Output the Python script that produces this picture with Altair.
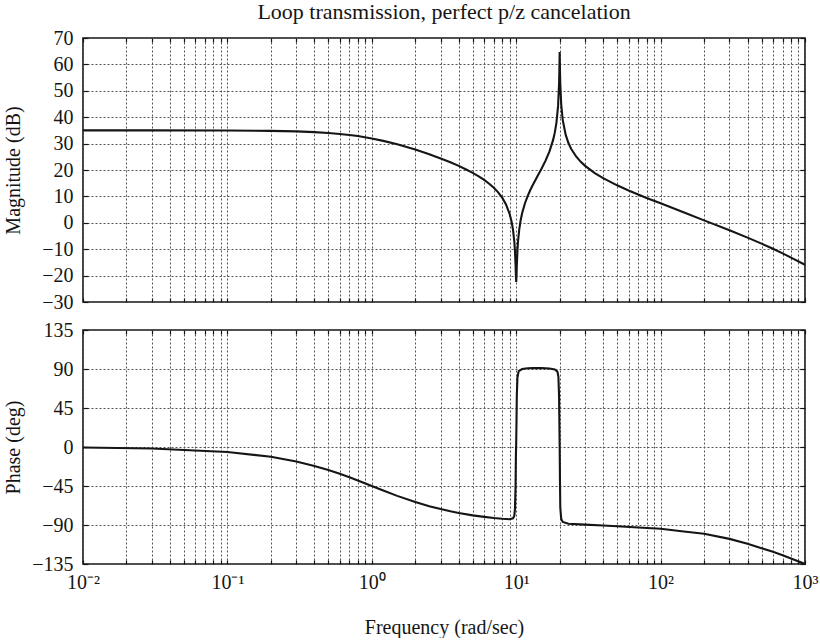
import altair as alt
import pandas as pd

# ---- data ----
mag_freq = [0.01, 0.03, 0.1, 0.2, 0.3, 0.4, 0.5, 0.6, 0.7, 0.8, 1.0, 1.2, 1.5, 2.0,
            2.5, 3.0, 3.5, 4.0, 4.5, 5.0, 5.5, 6.0, 6.5, 7.0, 7.5, 8.0, 8.5, 9.0,
            9.3, 9.5, 9.7, 9.8, 9.9, 9.95, 10.0, 10.05, 10.1, 10.2, 10.3, 10.5,
            10.75, 11.0, 11.5, 12.0, 12.5, 13.0, 14.0, 15.0, 16.0, 17.0, 18.0, 18.5,
            19.0, 19.5, 19.8, 19.9, 19.95, 20.0, 20.05, 20.1, 20.2, 20.5, 21.0, 22.0,
            23.0, 24.0, 26.0, 28.0, 30.0, 35.0, 40.0, 50.0, 60.0, 80.0, 100.0,
            150.0, 200.0, 300.0, 400.0, 500.0, 600.0, 700.0, 800.0, 1000.0]
mag_db = [35.0, 35.0, 34.96, 34.83, 34.62, 34.35, 34.03, 33.66, 33.27, 32.86, 31.95,
          31.03, 29.73, 27.74, 25.98, 24.38, 22.95, 21.55, 20.18, 18.91, 17.6, 16.23,
          14.78, 13.28, 11.53, 9.54, 6.97, 3.4, 0.3, -2.58, -7.0, -10.5, -16.0,
          -20.0, -22.4, -20.0, -16.2, -10.45, -6.9, -2.45, 1.15, 3.7, 7.41, 10.14,
          12.34, 14.25, 17.56, 20.59, 23.63, 27.04, 31.32, 34.14, 37.97, 44.28,
          52.4, 57.5, 61.0, 64.7, 61.0, 57.5, 52.6, 44.8, 39.0, 33.39, 30.23, 28.06,
          25.12, 23.1, 21.57, 18.84, 16.93, 14.2, 12.26, 9.4, 7.4, 3.6, 0.92,
          -2.84, -5.62, -7.89, -9.85, -11.59, -13.17, -15.9]

phase_freq = [0.01, 0.03, 0.1, 0.2, 0.3, 0.4, 0.5, 0.6, 0.7, 0.8, 1.0, 1.2, 1.5, 2.0,
              2.5, 3.0, 3.5, 4.0, 5.0, 6.0, 7.0, 8.0, 9.0, 9.5, 9.7, 9.8, 9.9, 9.95,
              10.0, 10.05, 10.1, 10.2, 10.4, 11.0, 12.0, 13.0, 15.0, 17.0, 18.5, 19.3,
              19.6, 19.8, 19.9, 20.0, 20.1, 20.2, 20.5, 21.0, 23.0, 30.0, 40.0, 50.0,
              70.0, 100.0, 150.0, 200.0, 300.0, 400.0, 500.0, 600.0, 700.0, 800.0,
              1000.0]
phase_deg = [-0.6, -1.7, -5.7, -11.3, -16.7, -21.8, -26.6, -31.0, -35.0, -38.7, -45.0,
             -50.2, -56.4, -63.4, -68.3, -71.6, -74.2, -76.2, -78.9, -80.6, -81.9,
             -82.8, -83.3, -82.3, -79.5, -72.0, -45.0, -10.0, 5.0, 30.0, 60.0, 80.0,
             87.5, 90.0, 90.8, 91.0, 91.0, 90.5, 89.5, 87.0, 81.0, 60.0, 30.0, 1.0,
             -40.0, -70.0, -83.0, -86.5, -88.5, -89.6, -90.6, -91.5, -92.8, -94.3,
             -97.8, -100.0, -106.0, -111.5, -116.8, -121.0, -124.8, -128.6, -135.0]

decades = [0.01, 0.1, 1, 10, 100, 1000]
decade_labels = ["10\u207b\u00b2", "10\u207b\u00b9", "10\u2070", "10\u00b9", "10\u00b2", "10\u00b3"]
mag_ticks = [-30, -20, -10, 0, 10, 20, 30, 40, 50, 60, 70]
phase_ticks = [-135, -90, -45, 0, 45, 90, 135]

title_text = "Loop transmission, perfect p/z cancelation"
mag_title = "Magnitude (dB)"
phase_title = "Phase (deg)"
freq_title = "Frequency (rad/sec)"

# ---- helpers ----
x_grid = sorted([round(m * d, 10) for d in decades[:-1] for m in range(1, 10)] + [1000])
label_expr = " : ".join(
    f"datum.value == {d} ? '{lab}'" for d, lab in zip(decades, decade_labels)
) + " : ''"

FONT = "Liberation Serif"
INK = "#151515"
W = 722

mag_df = pd.DataFrame({"f": mag_freq, "v": mag_db})
ph_df = pd.DataFrame({"f": phase_freq, "v": phase_deg})

xscale = alt.Scale(type="log", domain=[0.01, 1000], nice=False)


def panel(df, ydomain, yticks, ytitle, height, show_xlabels):
    y_scale = alt.Scale(domain=ydomain, nice=False, zero=False)
    x_axis = alt.Axis(
        values=x_grid, grid=True, gridColor="#555", gridDash=[2, 2], gridWidth=1,
        domain=False, ticks=True, tickSize=4, offset=-4, tickColor=INK, tickWidth=1.2,
        labels=show_xlabels, labelExpr=label_expr, labelFlush=False, labelOverlap=False,
        labelFont=FONT, labelFontSize=20, labelColor=INK, labelPadding=8,
        title=freq_title if show_xlabels else None, titleFont=FONT, titleFontSize=20,
        titleFontWeight="normal", titleColor=INK, titlePadding=25,
    )
    y_axis = alt.Axis(
        values=yticks, grid=True, gridColor="#555", gridDash=[2, 2], gridWidth=1,
        domain=False, ticks=True, tickSize=5, offset=-5, tickColor=INK, tickWidth=1.2,
        labelFont=FONT, labelFontSize=20, labelColor=INK, labelPadding=10,
        title=ytitle, titleFont=FONT, titleFontSize=20, titleFontWeight="normal",
        titleColor=INK, titleX=-65, titleY=height / 2, titleAngle=-90,
        titleBaseline="bottom", titleAlign="center",
    )
    main = alt.Chart(df).mark_line(color=INK, strokeWidth=2.1, clip=True).encode(
        x=alt.X("f:Q", scale=xscale, axis=x_axis),
        y=alt.Y("v:Q", scale=y_scale, axis=y_axis),
    )
    mirror = alt.Chart(df).mark_line(opacity=0).encode(
        x=alt.X("f:Q", scale=xscale, axis=alt.Axis(
            orient="top", values=x_grid, grid=False, domain=False, labels=False,
            tickSize=4, offset=-4, tickColor=INK, tickWidth=1.2, title=None)),
        y=alt.Y("v:Q", scale=y_scale, axis=alt.Axis(
            orient="right", values=yticks, grid=False, domain=False, labels=False,
            tickSize=5, offset=-5, tickColor=INK, tickWidth=1.2, title=None)),
    )
    return alt.layer(main, mirror).resolve_axis(x="independent", y="independent").properties(
        width=W, height=height)


top = panel(mag_df, [-30, 70], mag_ticks, mag_title, 264, False).properties(
    title=alt.TitleParams(title_text, font=FONT, fontSize=22, fontWeight="normal",
                          color=INK, anchor="middle", offset=4))
bottom = panel(ph_df, [-135, 135], phase_ticks, phase_title, 234, True)

chart = alt.vconcat(top, bottom, spacing=6).properties(
    padding={"left": 2, "top": 0, "right": 0, "bottom": 0},
    background="white",
).configure_view(stroke=INK, strokeWidth=1.6)

chart.save("out.html", embed_options={"renderer": "svg", "actions": False})
